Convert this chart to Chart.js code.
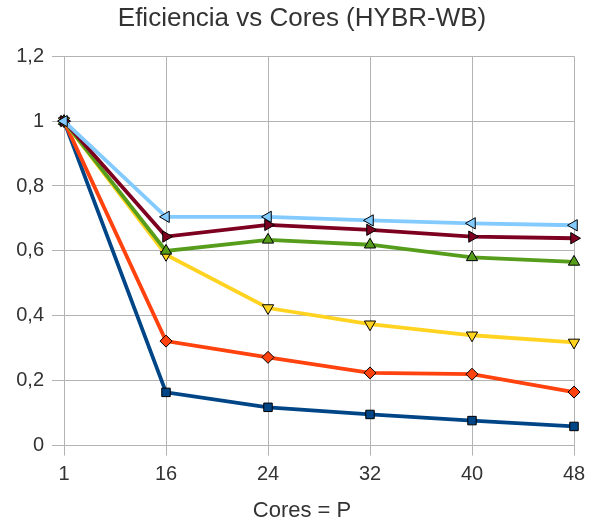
<!DOCTYPE html>
<html><head><meta charset="utf-8">
<script src="https://cdn.jsdelivr.net/npm/chart.js@4/dist/chart.umd.min.js"></script>
<style>html,body{margin:0;padding:0;background:#fff}#wrap{width:596px;height:524px}</style>
</head><body><div id="wrap"><canvas id="c" width="596" height="524"></canvas></div>
<script>
const categories = ["1","16","24","32","40","48"];
const seriesNames = ["S1","S2","S3","S4","S5","S6"];
const s1 = [1, 0.164, 0.118, 0.096, 0.077, 0.059];
const s2 = [1, 0.322, 0.272, 0.224, 0.220, 0.165];
const s3 = [1, 0.588, 0.424, 0.374, 0.340, 0.318];
const s4 = [1, 0.600, 0.634, 0.619, 0.580, 0.566];
const s5 = [1, 0.644, 0.680, 0.665, 0.644, 0.639];
const s6 = [1, 0.705, 0.705, 0.694, 0.685, 0.679];
const yTicks = [0, 0.2, 0.4, 0.6, 0.8, 1, 1.2];

const colors = ["#004586","#ff420e","#ffd320","#579d1c","#7e0021","#83caff"];
const styles = [["rect",0],["rectRot",0],["triangle",180],["triangle",0],["triangle",90],["triangle",-90]];
const radii = [6,6,6.5,6.5,6.5,6.5];
const all = [s1,s2,s3,s4,s5,s6];
const datasets = all.map((d,i)=>({
  label: seriesNames[i], data: d,
  borderColor: colors[i], backgroundColor: colors[i],
  borderWidth: 3.8, tension: 0,
  pointStyle: styles[i][0], rotation: styles[i][1],
  pointRadius: radii[i], pointBorderColor: "#000", pointBorderWidth: 1,
  pointBackgroundColor: colors[i], order: 6 - i
}));
Chart.defaults.font.family = "'Liberation Sans', Arial, sans-serif";
Chart.defaults.color = "#333";
const noLabelClip = {
  id: "noLabelClip",
  afterLayout(chart) {
    const y = chart.scales.y;
    y._computeLabelArea = () => undefined;
    y._labelArea = undefined;
  }
};
new Chart(document.getElementById("c"), {
  type: "line",
  data: { labels: categories, datasets },
  plugins: [noLabelClip],
  options: {
    responsive: false, animation: false,
    layout: { padding: { left: 30, right: 22, top: 0, bottom: 0 } },
    plugins: {
      legend: { display: false }, tooltip: { enabled: false },
      title: { display: true, text: "Eficiencia vs Cores (HYBR-WB)", font: { size: 26, weight: "normal" }, color: "#333", padding: { top: 3, bottom: 22 } },
      subtitle: { display: true, position: "bottom", text: "Cores = P", font: { size: 22, weight: "normal" }, color: "#333", padding: { top: 4, bottom: 0 } }
    },
    scales: {
      x: {
        offset: false,
        grid: { color: "#b3b3b3", lineWidth: 1, tickLength: 10, drawOnChartArea: true },
        border: { color: "#b3b3b3" },
        ticks: { font: { size: 20, lineHeight: 1 }, color: "#333", padding: 9, maxRotation: 0 }
      },
      y: {
        min: 0, max: 1.2,
        afterBuildTicks: (ax) => { ax.ticks = yTicks.map(v => ({ value: v })); },
        afterFit: (ax) => { ax.width = 34; },
        grid: { color: "#b3b3b3", lineWidth: 1, tickLength: 12 },
        border: { color: "#b3b3b3" },
        ticks: { font: { size: 20 }, color: "#333", padding: 8,
          callback: (v) => String(Math.round(v*10)/10).replace(".", ",") }
      }
    }
  }
});
</script></body></html>
